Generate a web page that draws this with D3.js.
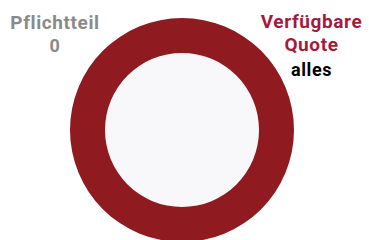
<!DOCTYPE html>
<html>
<head>
<meta charset="utf-8">
<script src="https://cdn.jsdelivr.net/npm/d3@7"></script>
<style>
  body { margin: 0; background: #fff; }
  text { font-family: Roboto, "Open Sans", sans-serif; font-weight: 700; }
</style>
</head>
<body>
<div id="chart"></div>
<script>
const width = 369
const height = 240

// Daten
const categories = ["Pflichtteil", "Verfügbare Quote"]
const values = [0, 1]
const valueLabels = ["0", "alles"]

const colors = ["#8a8a8a", "#8f1b20"]

const svg = d3.select("#chart")
  .append("svg")
  .attr("width", width)
  .attr("height", height)

const cx = 182, cy = 130
const outerR = 112, innerR = 77

const pie = d3.pie().sort(null).value(d => d)
const arc = d3.arc().innerRadius(innerR).outerRadius(outerR)

const ring = svg.append("g")
  .attr("transform", `translate(${cx}, ${cy})`)

ring.append("circle")
  .attr("r", innerR)
  .attr("fill", "#f8f7fa")

ring.selectAll("path").data(pie(values))
  .enter()
  .append("path")
    .attr("d", arc)
    .attr("fill", (d, i) => colors[i])

// Beschriftungen: jeweils ein Textblock mit tspans
const labels = svg.append("g")
  .attr("text-anchor", "middle")
  .attr("letter-spacing", 0.6)

// Pflichtteil links oben
const left = labels.append("text")
  .attr("x", 55).attr("y", 29)
  .attr("fill", "#8a8a8a")
left.append("tspan")
  .attr("x", 55).attr("font-size", 19)
  .text(categories[0])
left.append("tspan")
  .attr("x", 55).attr("dy", 22.5).attr("font-size", 18)
  .text(valueLabels[0])

// Verfügbare Quote rechts oben
const right = labels.append("text")
  .attr("x", 311.5).attr("y", 28)
right.selectAll("tspan.cat").data(categories[1].split(" "))
  .enter()
  .append("tspan")
    .attr("class", "cat")
    .attr("x", 311.5)
    .attr("dy", (d, i) => i === 0 ? 0 : 22.5)
    .attr("font-size", 19)
    .attr("fill", "#a51a3c")
    .text(d => d)
right.append("tspan")
  .attr("x", 311.5).attr("dy", 25).attr("font-size", 18)
  .attr("fill", "#000")
  .text(valueLabels[1])
</script>
</body>
</html>
